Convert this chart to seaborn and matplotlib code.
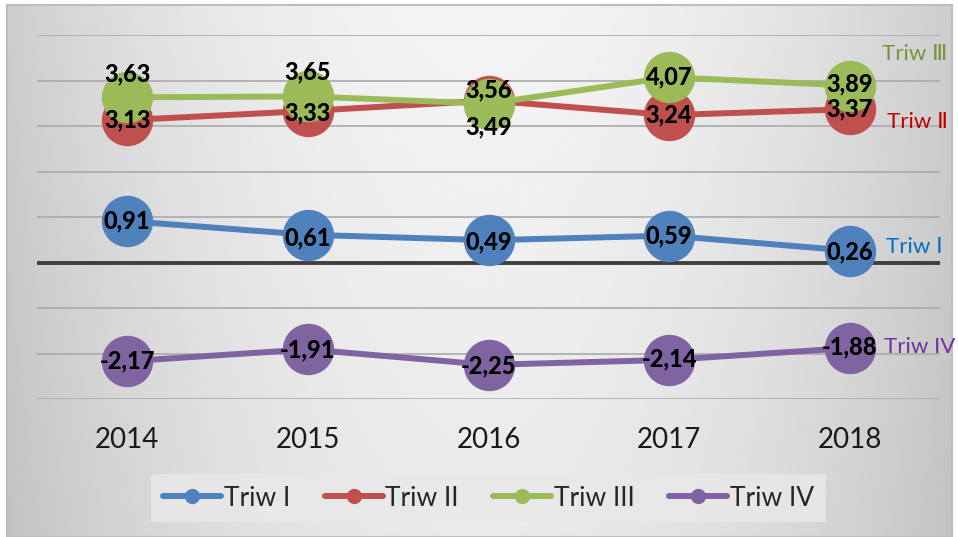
import numpy as np
import pandas as pd
import matplotlib
matplotlib.use('Agg')
import matplotlib.pyplot as plt
from matplotlib.lines import Line2D
import seaborn as sns

##### DATA #####
years = ['2014', '2015', '2016', '2017', '2018']
triw_1 = [0.91, 0.61, 0.49, 0.59, 0.26]
triw_2 = [3.13, 3.33, 3.56, 3.24, 3.37]
triw_3 = [3.63, 3.65, 3.49, 4.07, 3.89]
triw_4 = [-2.17, -1.91, -2.25, -2.14, -1.88]
series = ['Triw I', 'Triw II', 'Triw III', 'Triw IV']
end_labels = ['Triw Ⅰ', 'Triw Ⅱ', 'Triw Ⅲ', 'Triw IV']

df = pd.DataFrame({
    'year': years * 4,
    'value': triw_1 + triw_2 + triw_3 + triw_4,
    'series': np.repeat(series, len(years)),
})

##### STYLE #####
colors = ['#4f81bd', '#c0504d', '#9bbb59', '#8064a2']
end_colors = ['#0070c0', '#c00000', '#77933c', '#7030a0']
# vertical nudges of the value labels (points), per series / year
label_dy = [
    [0, -2, -1, 0, -1],
    [0, -1, 8, 0, 0],
    [17, 18, -17, 0, 1],
    [0, 0, -1, 1, 1],
]
# offsets of the series names next to the last point (points)
end_off = [(26, 3), (27, -9), (23, 23), (25, 1)]

sns.set_style('white')
plt.rcParams['font.family'] = ['Lato', 'DejaVu Sans']

fig = plt.figure(figsize=(9.58, 5.37), dpi=100)

# gradient backdrop
bg = fig.add_axes([7 / 958, 0, 945 / 958, 532 / 537])
X, Y = np.meshgrid(np.linspace(-1, 1, 400), np.linspace(0, 1, 250))
shade = 0.955 - 0.15 * X ** 2 - 0.04 * Y
bg.imshow(shade, cmap='gray', vmin=0, vmax=1, aspect='auto',
          extent=[0, 1, 0, 1], origin='upper')
bg.set_xlim(0, 1); bg.set_ylim(0, 1)
for s in bg.spines.values():
    s.set_color('#bdbdbd')
    s.set_linewidth(1.5)
bg.set_xticks([]); bg.set_yticks([])
bg.set_zorder(0)

ax = fig.add_axes([37 / 958, 1 - 399 / 537, 903 / 958, 364 / 537])
ax.patch.set_alpha(0)
ax.set_zorder(1)

sns.lineplot(data=df, x='year', y='value', hue='series', palette=colors,
             marker='o', markersize=37, markeredgewidth=0, linewidth=4.3,
             sort=False, legend=False, ax=ax)

ax.set_ylim(-3, 5)
ax.set_yticks(range(-3, 6))
ax.set_xlim(-0.5, 4.5)
ax.yaxis.grid(True, color='#aaaaaa', linewidth=1.2)
ax.set_axisbelow(True)
ax.axhline(0, color='#3f3f3f', linewidth=2.8, zorder=1.5)
ax.tick_params(axis='y', left=False, labelleft=False)
ax.tick_params(axis='x', length=0, pad=20, labelsize=20, labelcolor='#1a1a1a')
ax.set_xlabel('')
ax.set_ylabel('')
sns.despine(ax=ax, left=True, bottom=True)

all_vals = [triw_1, triw_2, triw_3, triw_4]
for i, vals in enumerate(all_vals):
    for j, v in enumerate(vals):
        ax.annotate(f'{v:.2f}'.replace('.', ','), (j, v),
                    xytext=(0, label_dy[i][j]), textcoords='offset points',
                    ha='center', va='center', fontsize=17, fontweight='black',
                    color='black', zorder=6)
    ax.annotate(end_labels[i], (len(years) - 1, vals[-1]),
                xytext=end_off[i], textcoords='offset points',
                ha='left', va='center', fontsize=16, color=end_colors[i],
                annotation_clip=False, zorder=6)

handles = [Line2D([0], [0], color=c, lw=4.3, marker='o', markersize=11,
                  markeredgewidth=0) for c in colors]
leg = fig.legend(handles, series, loc='center',
                 bbox_to_anchor=(488.5 / 958, 1 - 498 / 537), ncol=4,
                 frameon=True, fancybox=False, facecolor='#e8e8e8',
                 edgecolor='none', framealpha=0.85, fontsize=19,
                 handlelength=2.2, handletextpad=0.1, columnspacing=1.3,
                 borderpad=0.45)

plt.savefig('out.png', dpi=100)
